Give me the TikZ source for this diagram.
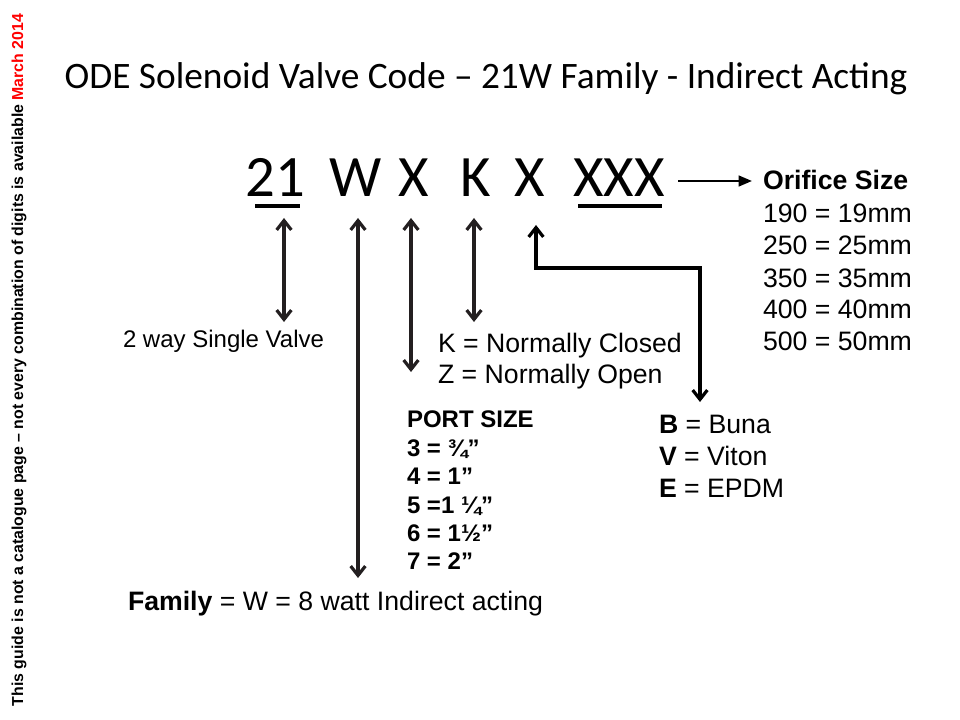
\documentclass[tikz,border=0pt]{standalone}
\usepackage{fontspec}
\setmainfont{Liberation Sans}
\newfontfamily\calibri{Carlito}
\usetikzlibrary{arrows.meta}
\definecolor{ink}{HTML}{231F20}
\definecolor{redm}{HTML}{FF0000}
\begin{document}
\begin{tikzpicture}[x=0.75pt,y=-0.75pt,
  every node/.style={inner sep=0pt,outer sep=0pt},
  txt/.style={anchor=base west,font=\fontsize{20}{24}\selectfont},
  small/.style={anchor=base west,font=\fontsize{18}{22}\selectfont},
  port/.style={anchor=base west,font=\bfseries\fontsize{18}{22}\selectfont},
  code/.style={anchor=base,font=\calibri\fontsize{44}{54}\selectfont},
  barb/.style={Straight Barb[length=7pt,width=11pt,line width=2.4pt]},
  dbl/.style={draw=ink,line width=2.6pt,{Straight Barb[length=7pt,width=11pt,line width=2.4pt]}-{Straight Barb[length=7pt,width=11pt,line width=2.4pt]}},
  elbow/.style={draw=black,line width=2.6pt,{Straight Barb[length=7pt,width=11pt,line width=2.4pt]}-{Straight Barb[length=7pt,width=11pt,line width=2.4pt]}},
  harrow/.style={draw=black,line width=1.7pt,-{Triangle[length=10pt,width=8pt]}},
  uline/.style={draw=black,line width=2.4pt}]
\useasboundingbox (0,0) rectangle (960,720);
\fill[white] (0,0) rectangle (960,720);

% side note
\node[rotate=90,font=\bfseries\fontsize{11.9}{13}\selectfont] (side) at (19,360)
  {This guide is not a catalogue page -- not every combination of digits is available \textcolor{redm}{March 2014}};

% title
\node[anchor=base,font=\calibri\fontsize{28}{34}\selectfont] (title) at (486,89)
  {ODE Solenoid Valve Code – 21W Family - Indirect Acting};

% code characters
\node[code] (c21) at (275,197) {21};
\node[code] (cW) at (356,197) {W};
\node[code] (cX1) at (414,197) {X};
\node[code] (cK) at (476,197) {K};
\node[code] (cX2) at (530,197) {X};
\node[code] (cXXX) at (619,197) {XXX};

% underlines
\coordinate (u1a) at (255,206); \coordinate (u1b) at (300,206);
\coordinate (u2a) at (578,206); \coordinate (u2b) at (662,206);
\draw[uline] (u1a) -- (u1b);
\draw[uline] (u2a) -- (u2b);

% labels
\node[small] (single) at (123,347) {2 way Single Valve};
\node[txt] (knc) at (438,352) {K = Normally Closed};
\node[txt] (zno) at (438,383) {Z = Normally Open};

\node[port] (ps) at (407,427) {PORT SIZE};
\node[port] (p3) at (407,456) {3 = ¾”};
\node[port] (p4) at (407,484) {4 = 1”};
\node[port] (p5) at (407,513) {5 =1 ¼”};
\node[port] (p6) at (407,541) {6 = 1½”};
\node[port] (p7) at (407,569) {7 = 2”};

\node[txt] (fam) at (128,610) {\textbf{Family} = W = 8 watt Indirect acting};

\node[txt] (mb) at (659,433) {\textbf{B} = Buna};
\node[txt] (mv) at (659,465) {\textbf{V} = Viton};
\node[txt] (me) at (659,497) {\textbf{E} = EPDM};

\node[txt] (os) at (763,190) {\textbf{Orifice Size}};
\node[txt] (o1) at (763,223) {190 = 19mm};
\node[txt] (o2) at (763,255) {250 = 25mm};
\node[txt] (o3) at (763,287) {350 = 35mm};
\node[txt] (o4) at (763,318) {400 = 40mm};
\node[txt] (o5) at (763,350) {500 = 50mm};

% connectors
\coordinate (a21t) at (284,218); \coordinate (a21b) at (284,322);
\coordinate (aWt) at (358,218);  \coordinate (aWb) at (358,578);
\coordinate (aXt) at (411,218);  \coordinate (aXb) at (411,372);
\coordinate (aKt) at (474,218);  \coordinate (aKb) at (474,322);
\coordinate (aMt) at (536,225);  \coordinate (aMb) at (700,402);
\coordinate (aOs) at (678,181);  \coordinate (aOe) at (752,181);

\draw[dbl] (a21t) -- (a21b);
\draw[dbl] (aWt) -- (aWb);
\draw[dbl] (aXt) -- (aXb);
\draw[dbl] (aKt) -- (aKb);
\draw[elbow] (aMt) -- (536,268) -- (700,268) -- (aMb);
\draw[harrow] (aOs) -- (aOe);
\end{tikzpicture}
\end{document}
